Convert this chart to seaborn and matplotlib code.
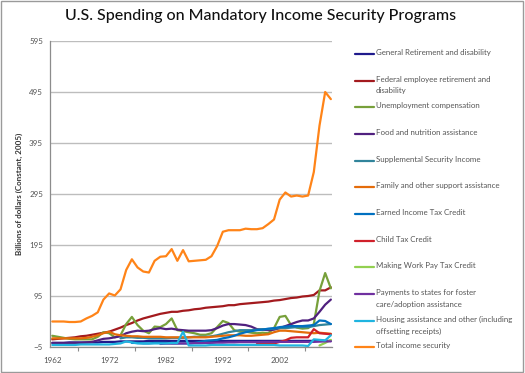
import numpy as np
import pandas as pd
import seaborn as sns
import matplotlib.pyplot as plt
from matplotlib.lines import Line2D
from matplotlib.patches import Rectangle

nan = np.nan
years = list(range(1962, 2012))

# values (billions, constant 2005 dollars)
general_retirement = [3, 3, 3, 4, 4, 4, 4, 4, 4, 5,
                      5, 5, 6, 6, 6, 6, 6, 7, 7, 7,
                      7, 7, 7, 7, 7, 7, 7, 7, 7, 7,
                      7, 7, 7, 7, 7, 7, 7, 7, 7, 7,
                      7, 7, 7, 7, 7, 7, 7, 8, 7, 7]
federal_retirement = [10, 11, 12, 13, 14, 16, 17, 19, 21, 23,
                      25, 29, 33, 38, 42, 47, 51, 54, 57, 60,
                      62, 64, 64, 66, 67, 69, 70, 72, 73, 74,
                      75, 77, 77, 79, 80, 81, 82, 83, 84, 86,
                      87, 89, 91, 92, 94, 95, 97, 106, 106, 112]
unemployment = [17, 15, 13, 11, 10, 10, 10, 10, 15, 24,
                22, 14, 18, 40, 54, 38, 27, 22, 35, 34,
                40, 51, 28, 26, 24, 22, 19, 19, 22, 34,
                46, 42, 28, 25, 25, 23, 22, 23, 22, 32,
                54, 56, 38, 33, 31, 32, 40, 105, 140, 110]
food_nutrition = [3, 3, 3, 3, 3, 3, 4, 5, 8, 11,
                  12, 14, 16, 22, 25, 27, 26, 27, 30, 32,
                  30, 31, 29, 28, 27, 27, 27, 27, 28, 32,
                  37, 40, 40, 39, 38, 35, 30, 29, 28, 29,
                  32, 36, 40, 44, 47, 47, 51, 64, 78, 88]
ssi = [nan] * 12 + [12, 14, 14, 13, 13, 12, 12, 12,
                    12, 13, 13, 13, 14, 15, 15, 15, 16, 18,
                    21, 24, 26, 28, 28, 28, 29, 30, 30, 31,
                    32, 32, 33, 34, 34, 34, 36, 38, 39, 40]
family_support = [12, 12, 12, 12, 12, 12, 13, 15, 18, 22,
                  25, 20, 18, 17, 16, 16, 15, 15, 15, 15,
                  14, 14, 14, 14, 14, 14, 14, 14, 15, 16,
                  17, 18, 18, 18, 17, 17, 18, 19, 20, 24,
                  27, 27, 26, 25, 24, 23, 22, 23, 22, 21]
eitc = [nan] * 14 + [3, 3, 2, 2, 3, 3,
                     3, 2, 2, 2, 2, 3, 5, 7, 8, 9,
                     12, 14, 17, 21, 24, 26, 28, 29, 31, 32,
                     34, 35, 36, 36, 36, 37, 38, 47, 46, 40]
child_tax_credit = [nan] * 36 + [1, 1, 1, 2,
                                 5, 8, 13, 14, 14, 14, 30, 22, 21, 20]
making_work_pay = [nan] * 47 + [-2, 3, 9]
foster_care = [nan] * 19 + [1,
                            1.5, 2, 2, 2, 2, 2.5, 2.5, 3, 3, 3.5,
                            3.5, 4, 4, 4.5, 4.5, 4.5, 4.5, 5, 5, 5,
                            5, 5, 5, 5, 5, 5, 5, 5.5, 6, 6]
housing_other = [-1, -1, -1, -1, -1, 0, 0, 0, 0, 0,
                 0, 1, 2, 6, 4, 2, 2, 2, 2, 2,
                 2, 3, 3, 25, -2, -2, -2, -2, -1, -1,
                 -1, -1, -1, -1, -1, -1, -1, -1, -1, -1,
                 -2, -2, -2, -2, -2, -3, 10, 9, 8, 18]
total = [45, 45, 45, 44, 44, 45, 51, 56, 63, 88,
         100, 96, 108, 146, 167, 151, 143, 141, 164, 172,
         173, 187, 164, 185, 163, 164, 165, 166, 173, 193,
         221, 224, 224, 224, 227, 226, 226, 228, 236, 245,
         284, 298, 290, 292, 290, 292, 338, 429, 495, 481]

labels = ["General Retirement and disability",
          "Federal employee retirement and\ndisability",
          "Unemployment compensation",
          "Food and nutrition assistance",
          "Supplemental Security Income",
          "Family and other support assistance",
          "Earned Income Tax Credit",
          "Child Tax Credit",
          "Making Work Pay Tax Credit",
          "Payments to states for foster\ncare/adoption assistance",
          "Housing assistance and other (including\noffsetting receipts)",
          "Total income security"]
series = [general_retirement, federal_retirement, unemployment, food_nutrition,
          ssi, family_support, eitc, child_tax_credit, making_work_pay,
          foster_care, housing_other, total]
colors = ["#1F1A8C", "#A31A1E", "#77A03A", "#50207F", "#31849B", "#E46C0A",
          "#0070C0", "#D0202A", "#92D050", "#7030A0", "#1FB4E0", "#FF8418"]

wide = pd.DataFrame({lab: vals for lab, vals in zip(labels, series)}, index=years)
wide.index.name = "year"
df = wide.reset_index().melt(id_vars="year", var_name="program", value_name="value").dropna()

sns.set_style("white")
plt.rcParams["font.family"] = ["Lato", "DejaVu Sans"]

fig = plt.figure(figsize=(5.25, 3.73), dpi=100)
ax = fig.add_axes([50 / 525, 1 - 347 / 373, 282 / 525, 306 / 373])

sns.lineplot(data=df, x="year", y="value", hue="program", hue_order=labels,
             palette=dict(zip(labels, colors)), linewidth=1.6, legend=False, ax=ax)

ax.set_xlim(1961.6, 2011.2)
ax.set_ylim(-5, 595)
ax.set_yticks(range(-5, 596, 100))
ax.set_xticks(range(1962, 2003, 10))
ax.set_xticks(np.arange(1966.5, 2011, 10), minor=True)
ax.grid(axis="y", color="#BDBDBD", linewidth=1)
ax.set_axisbelow(True)
for side in ["top", "right"]:
    ax.spines[side].set_visible(False)
for side in ["left", "bottom"]:
    ax.spines[side].set_color("#8C8C8C")
    ax.spines[side].set_linewidth(0.9)
ax.tick_params(axis="y", which="major", direction="out", length=3, width=0.8,
               color="#8C8C8C", labelsize=5.8, labelcolor="#555555", pad=2)
ax.tick_params(axis="x", which="major", length=0, labelsize=5.8,
               labelcolor="#555555", pad=7)
ax.tick_params(axis="x", which="minor", direction="out", length=3, width=0.8,
               color="#8C8C8C", bottom=True)
ax.set_xlabel("")
ax.set_ylabel("Billions of dollars (Constant, 2005)", fontsize=5.8,
              fontweight="bold", color="#333333", labelpad=4)

fig.suptitle("U.S. Spending on Mandatory Income Security Programs",
             x=0.497, y=0.975, fontsize=11.5, color="#111111", fontweight="medium")

# legend drawn like the spreadsheet one: evenly spaced, handle on first line
for i, (lab, col) in enumerate(zip(labels, colors)):
    py = 54 + i * 26.67
    fy = 1 - py / 373
    fig.add_artist(Line2D([355 / 525, 374 / 525], [fy, fy], color=col, linewidth=1.6))
    fig.text(376 / 525, fy + 5 / 373, lab, fontsize=5.7, color="#555555",
             va="top", ha="left", linespacing=1.75)

fig.add_artist(Rectangle((0.002, 0.003), 0.995, 0.994, transform=fig.transFigure,
                         fill=False, edgecolor="#9A9A9A", linewidth=1))

fig.savefig("out.png", dpi=100)
